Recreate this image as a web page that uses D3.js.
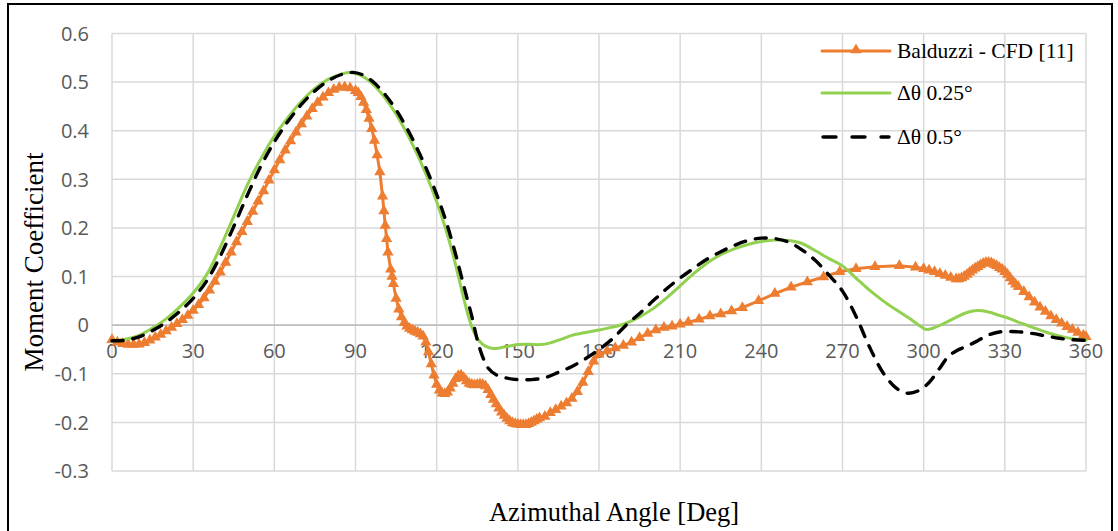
<!DOCTYPE html>
<html>
<head>
<meta charset="utf-8">
<script src="https://cdn.jsdelivr.net/npm/d3@7"></script>
<style>
  html, body { margin: 0; padding: 0; background: #fff; }
  svg { display: block; }
</style>
</head>
<body>
<svg id="chart" width="1118" height="531"></svg>
<script>
// ---------- data ----------
const xTicks = [0, 30, 60, 90, 120, 150, 180, 210, 240, 270, 300, 330, 360];
const yTicks = [-0.3, -0.2, -0.1, 0, 0.1, 0.2, 0.3, 0.4, 0.5, 0.6];
const yTickLabels = ["-0.3", "-0.2", "-0.1", "0", "0.1", "0.2", "0.3", "0.4", "0.5", "0.6"];
const seriesNames = ["Balduzzi - CFD [11]", "\u0394\u03b8 0.25\u00b0", "\u0394\u03b8 0.5\u00b0"];

const baldAngle = [0,2,4,6,8,10,12,14,16,18,20,22,24,26,28,30,32,34,36,38,40,42,44,46,48,50,52,54,56,58,60,62,64,66,68,70,72,74,76,78,80,82,84,86,88,90,
  91,92,93,94,95,96,97,98,99,100,100.5,101,101.5,102,103,103.5,104,105,106,107,108,109,110,111,112,113,114,115,116,117,118,119,120,121,122,123,124,125,126,127,128,129,130,131,132,133,134,135,136,137,138,139,140,141,142,143,144,145,146,147,148,149,150,151,152,153,154,155,156,157,158,160,162,164,166,168,170,172,174,176,178,180,
  183,186,189,192,195,198,201,204,207,210,213,217,221,225,229,233,239,245,251,257,263,269,275,282,291,297,300,302,304,306,308,310,312,313,314,315,316,317,318,319,320,321,322,323,324,325,326,327,328,329,330,331,332,333,334,335,337,339,341,343,345,347,349,351,353,355,357,359,360];
const baldCm = [-0.030,-0.035,-0.038,-0.040,-0.040,-0.039,-0.036,-0.031,-0.025,-0.019,-0.012,-0.005,0.003,0.011,0.020,0.030,0.042,0.056,0.072,0.090,0.109,0.129,0.150,0.171,0.192,0.213,0.234,0.255,0.276,0.298,0.319,0.340,0.360,0.379,0.397,0.414,0.430,0.445,0.458,0.469,0.478,0.485,0.489,0.490,0.488,0.482,
  0.478,0.470,0.458,0.443,0.425,0.404,0.380,0.350,0.315,0.265,0.235,0.205,0.178,0.150,0.115,0.100,0.085,0.055,0.033,0.017,0.005,-0.002,-0.007,-0.010,-0.013,-0.015,-0.018,-0.023,-0.035,-0.055,-0.080,-0.103,-0.122,-0.134,-0.140,-0.141,-0.138,-0.130,-0.120,-0.110,-0.104,-0.103,-0.108,-0.115,-0.120,-0.122,-0.123,-0.122,-0.121,-0.122,-0.125,-0.133,-0.143,-0.153,-0.162,-0.171,-0.179,-0.186,-0.192,-0.197,-0.201,-0.203,-0.204,-0.205,-0.205,-0.205,-0.203,-0.200,-0.197,-0.194,-0.191,-0.188,-0.180,-0.174,-0.167,-0.160,-0.151,-0.137,-0.118,-0.096,-0.074,-0.060,
  -0.053,-0.047,-0.042,-0.035,-0.026,-0.017,-0.010,-0.005,-0.002,0.002,0.006,0.012,0.019,0.023,0.029,0.036,0.050,0.065,0.078,0.089,0.099,0.110,0.116,0.120,0.122,0.119,0.116,0.113,0.110,0.106,0.102,0.098,0.095,0.095,0.097,0.100,0.104,0.109,0.113,0.117,0.120,0.124,0.127,0.129,0.129,0.128,0.125,0.122,0.118,0.115,0.110,0.104,0.097,0.090,0.084,0.079,0.069,0.058,0.047,0.037,0.028,0.019,0.011,0.004,-0.003,-0.009,-0.015,-0.021,-0.024];

const fineAngle = [0,5,10,15,20,25,30,35,40,45,50,55,60,65,70,75,80,85,88,92,96,100,104,108,112,116,120,123,126,128,130,132,134,136,138,141,144,147,150,153,156,160,165,170,175,180,185,190,195,200,205,210,215,220,225,230,235,240,245,250,255,260,265,270,275,280,285,290,295,298,301,304,308,312,316,320,324,328,332,336,340,345,350,355,360];
const fineCm = [-0.032,-0.029,-0.021,-0.006,0.013,0.037,0.066,0.104,0.160,0.224,0.288,0.342,0.389,0.427,0.460,0.487,0.506,0.517,0.520,0.514,0.498,0.474,0.443,0.405,0.361,0.311,0.254,0.204,0.146,0.101,0.055,0.013,-0.017,-0.034,-0.043,-0.048,-0.046,-0.043,-0.040,-0.039,-0.040,-0.039,-0.031,-0.021,-0.015,-0.010,-0.004,0.004,0.017,0.034,0.056,0.081,0.106,0.128,0.145,0.157,0.166,0.172,0.175,0.174,0.168,0.153,0.137,0.122,0.097,0.072,0.050,0.031,0.013,0.001,-0.009,-0.005,0.005,0.016,0.026,0.030,0.027,0.020,0.013,0.004,-0.004,-0.014,-0.022,-0.028,-0.031];

const coarseAngle = [0,5,10,15,20,25,30,35,40,45,50,55,60,65,70,75,80,85,89,93,97,101,105,109,113,117,121,124,127,129,131,133,135,137,139,142,146,150,155,160,165,170,175,180,185,190,195,200,205,210,215,220,225,230,235,240,245,250,255,260,265,270,275,280,285,290,294,298,302,306,309,312,316,320,324,328,332,336,340,345,350,355,360];
const coarseCm = [-0.032,-0.031,-0.024,-0.011,0.006,0.028,0.055,0.091,0.142,0.203,0.267,0.327,0.377,0.419,0.454,0.482,0.503,0.516,0.520,0.514,0.498,0.474,0.443,0.405,0.361,0.311,0.254,0.204,0.146,0.103,0.060,0.018,-0.030,-0.065,-0.088,-0.102,-0.109,-0.112,-0.112,-0.108,-0.097,-0.085,-0.069,-0.050,-0.028,0.000,0.024,0.050,0.075,0.097,0.117,0.136,0.151,0.164,0.174,0.179,0.178,0.171,0.155,0.133,0.103,0.070,0.018,-0.045,-0.098,-0.130,-0.140,-0.135,-0.118,-0.088,-0.065,-0.053,-0.043,-0.032,-0.020,-0.014,-0.013,-0.014,-0.017,-0.022,-0.027,-0.030,-0.031];

// ---------- layout ----------
const svg = d3.select("#chart");
const x = d3.scaleLinear().domain([0, 360]).range([112, 1086]);
const y = d3.scaleLinear().domain([-0.3, 0.6]).range([471, 33.5]);

const colors = { bald: "#ED7D31", fine: "#92D050", coarse: "#000000" };

// frame
svg.append("rect").attr("x", 8).attr("y", 4).attr("width", 1104).attr("height", 560)
  .attr("fill", "none").attr("stroke", "#000").attr("stroke-width", 2);

// gridlines
const grid = svg.append("g");
grid.selectAll("line.h").data(yTicks).join("line")
  .attr("x1", x(0)).attr("x2", x(360))
  .attr("y1", d => y(d)).attr("y2", d => y(d))
  .attr("stroke", "#d9d9d9").attr("stroke-width", 1.5);
grid.selectAll("line.v").data(xTicks).join("line")
  .attr("x1", d => x(d)).attr("x2", d => x(d))
  .attr("y1", y(0.6)).attr("y2", y(-0.3))
  .attr("stroke", "#d9d9d9").attr("stroke-width", 1.5);
// zero axis line
svg.append("line").attr("x1", x(0)).attr("x2", x(360)).attr("y1", y(0)).attr("y2", y(0))
  .attr("stroke", "#bfbfbf").attr("stroke-width", 1.75);

// tick labels
const tickFont = "'Open Sans', sans-serif";
svg.append("g").selectAll("text").data(yTicks).join("text")
  .attr("x", 89).attr("y", d => y(d)).attr("dy", "0.36em")
  .attr("text-anchor", "end").attr("font-family", tickFont).attr("font-size", 20)
  .attr("fill", "#595959").text((d, i) => yTickLabels[i]);
svg.append("g").selectAll("text").data(xTicks).join("text")
  .attr("x", d => x(d)).attr("y", y(0) + 39).attr("dy", "-0.3em")
  .attr("text-anchor", "middle").attr("font-family", tickFont).attr("font-size", 20)
  .attr("fill", "#595959").text(d => d);

// axis titles
const serif = "'Liberation Serif', 'Times New Roman', serif";
svg.append("text").attr("x", 614).attr("y", 521).attr("text-anchor", "middle")
  .attr("font-family", serif).attr("font-size", 26.5).attr("fill", "#000")
  .text("Azimuthal Angle [Deg]");
svg.append("text").attr("transform", "translate(43,262) rotate(-90)")
  .attr("text-anchor", "middle").attr("font-family", serif).attr("font-size", 27)
  .attr("fill", "#000").text("Moment Coefficient");

// series
const baldData = baldAngle.map((a, i) => [a, baldCm[i]]);
const fineData = fineAngle.map((a, i) => [a, fineCm[i]]);
const coarseData = coarseAngle.map((a, i) => [a, coarseCm[i]]);

const lineLin = d3.line().x(d => x(d[0])).y(d => y(d[1]));
const lineSmooth = d3.line().x(d => x(d[0])).y(d => y(d[1])).curve(d3.curveCatmullRom.alpha(0.5));

svg.append("path").datum(baldData).attr("d", lineLin)
  .attr("fill", "none").attr("stroke", colors.bald).attr("stroke-width", 3).attr("stroke-linejoin", "round");
const tri = d3.symbol().type(d3.symbolTriangle).size(55);
svg.append("g").selectAll("path").data(baldData).join("path")
  .attr("d", tri).attr("transform", d => `translate(${x(d[0])},${y(d[1])})`)
  .attr("fill", colors.bald);

svg.append("path").datum(fineData).attr("d", lineSmooth)
  .attr("fill", "none").attr("stroke", colors.fine).attr("stroke-width", 3).attr("stroke-linecap", "round");
svg.append("path").datum(coarseData).attr("d", lineSmooth)
  .attr("fill", "none").attr("stroke", colors.coarse).attr("stroke-width", 3.4)
  .attr("stroke-dasharray", "11,10").attr("stroke-linecap", "round");

// legend
const legend = svg.append("g");
const legY = [51, 93, 137];
const lx1 = 822, lx2 = 890;
legend.append("line").attr("x1", lx1).attr("x2", lx2).attr("y1", legY[0]).attr("y2", legY[0])
  .attr("stroke", colors.bald).attr("stroke-width", 3).attr("stroke-linecap", "round");
legend.append("path").attr("d", tri).attr("transform", `translate(${(lx1 + lx2) / 2},${legY[0] - 1})`).attr("fill", colors.bald);
legend.append("line").attr("x1", lx1).attr("x2", lx2).attr("y1", legY[1]).attr("y2", legY[1])
  .attr("stroke", colors.fine).attr("stroke-width", 3).attr("stroke-linecap", "round");
legend.append("line").attr("x1", lx1 + 1).attr("x2", lx2 - 1).attr("y1", legY[2]).attr("y2", legY[2])
  .attr("stroke", colors.coarse).attr("stroke-width", 3.4).attr("stroke-dasharray", "13,16")
  .attr("stroke-linecap", "round");
legend.selectAll("text").data(seriesNames).join("text")
  .attr("x", 897).attr("y", (d, i) => legY[i]).attr("dy", "0.33em")
  .attr("font-family", serif).attr("font-size", 21.5).attr("fill", "#000").text(d => d);
</script>
</body>
</html>
